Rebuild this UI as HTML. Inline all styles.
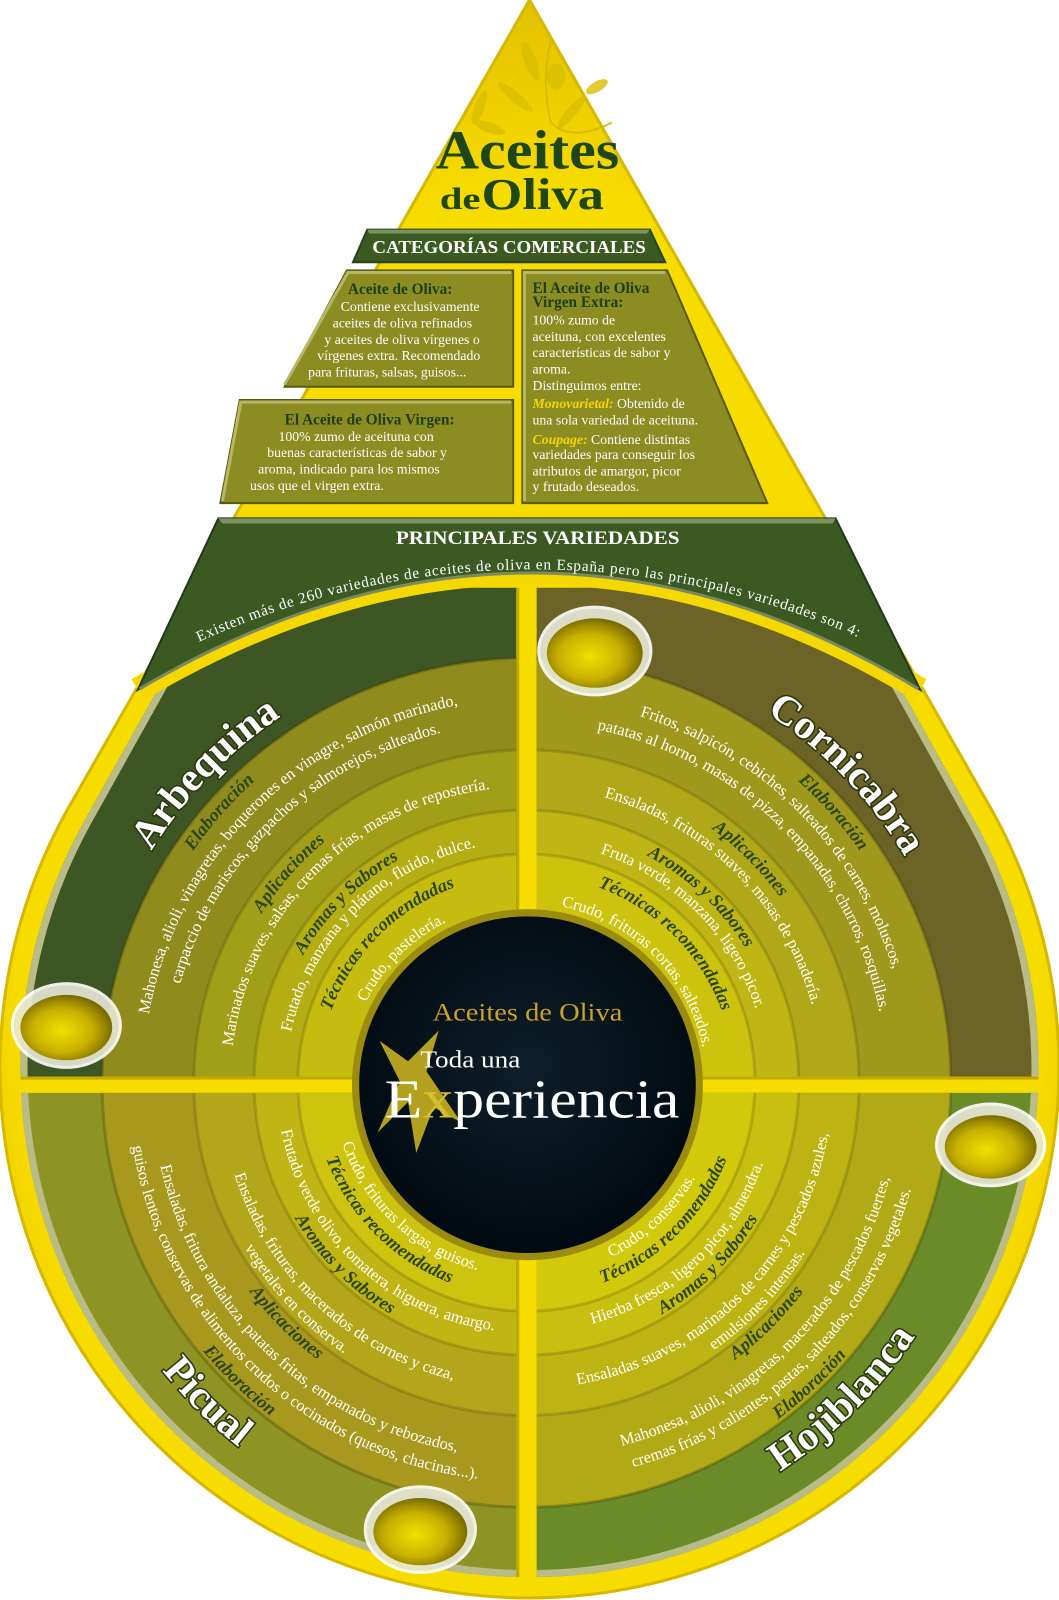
<!DOCTYPE html>
<html><head><meta charset="utf-8"><style>
html,body{margin:0;padding:0;background:#fff;}
svg{display:block;}
text{font-family:"Liberation Serif",serif;}
.b{fill:#fff;font-size:16px;}
.l{fill:#2a4612;font-size:18px;font-weight:bold;font-style:italic;}
.n{fill:#fff;font-size:40px;font-weight:bold;stroke:#2a3510;stroke-width:3px;paint-order:stroke;}
.h{fill:#1e3d10;font-size:15px;font-weight:bold;}
.t{fill:#fff;font-size:13.5px;}
.y{fill:#f5d800;font-weight:bold;font-style:italic;}
</style></head><body>
<svg width="1059" height="1600" viewBox="0 0 1038 1568" preserveAspectRatio="none" xmlns="http://www.w3.org/2000/svg">
<defs>
<radialGradient id="dropG" cx="50%" cy="60%" r="60%"><stop offset="0.8" stop-color="#f7dc00"/><stop offset="1" stop-color="#e2c000"/></radialGradient>
<radialGradient id="blk" cx="50%" cy="45%" r="55%"><stop offset="0" stop-color="#0f1e2a"/><stop offset="1" stop-color="#010a10"/></radialGradient>
<radialGradient id="oil" cx="45%" cy="55%" r="55%"><stop offset="0" stop-color="#f2e000"/><stop offset="0.6" stop-color="#c8b000"/><stop offset="1" stop-color="#7a6c00"/></radialGradient>
<path id="inset" d="M519,22 L955,804 A499 499 0 1 1 83,804 Z"/>
<clipPath id="cTL"><rect x="0" y="576" width="506" height="479"/></clipPath>
<clipPath id="cTR"><rect x="526" y="576" width="512" height="479"/></clipPath>
<clipPath id="cBL"><rect x="0" y="1071" width="506" height="497"/></clipPath>
<clipPath id="cBR"><rect x="526" y="1071" width="512" height="497"/></clipPath>
<clipPath id="cDrop"><use href="#inset"/></clipPath>
<path id="t432" d="M84,1061 A432 432 0 0 1 948,1061 A432 432 0 0 1 84,1061"/>
<path id="t398" d="M118,1061 A398 398 0 0 1 914,1061 A398 398 0 0 1 118,1061"/>
<path id="t376" d="M140,1061 A376 376 0 0 1 892,1061 A376 376 0 0 1 140,1061"/>
<path id="t353" d="M163,1061 A353 353 0 0 1 869,1061 A353 353 0 0 1 163,1061"/>
<path id="t308" d="M208,1061 A308 308 0 0 1 824,1061 A308 308 0 0 1 208,1061"/>
<path id="t290" d="M226,1061 A290 290 0 0 1 806,1061 A290 290 0 0 1 226,1061"/>
<path id="t252" d="M264,1061 A252 252 0 0 1 768,1061 A252 252 0 0 1 264,1061"/>
<path id="t236" d="M280,1061 A236 236 0 0 1 752,1061 A236 236 0 0 1 280,1061"/>
<path id="t204" d="M312,1061 A204 204 0 0 1 720,1061 A204 204 0 0 1 312,1061"/>
<path id="t176" d="M340,1061 A176 176 0 0 1 692,1061 A176 176 0 0 1 340,1061"/>
<path id="b455" d="M61,1061 A455 455 0 0 0 971,1061 A455 455 0 0 0 61,1061"/>
<path id="b412" d="M104,1061 A412 412 0 0 0 928,1061 A412 412 0 0 0 104,1061"/>
<path id="b391" d="M125,1061 A391 391 0 0 0 907,1061 A391 391 0 0 0 125,1061"/>
<path id="b368" d="M148,1061 A368 368 0 0 0 884,1061 A368 368 0 0 0 148,1061"/>
<path id="b340" d="M176,1061 A340 340 0 0 0 856,1061 A340 340 0 0 0 176,1061"/>
<path id="b320" d="M196,1061 A320 320 0 0 0 836,1061 A320 320 0 0 0 196,1061"/>
<path id="b300" d="M216,1061 A300 300 0 0 0 816,1061 A300 300 0 0 0 216,1061"/>
<path id="b263" d="M253,1061 A263 263 0 0 0 779,1061 A263 263 0 0 0 253,1061"/>
<path id="b245" d="M271,1061 A245 245 0 0 0 761,1061 A245 245 0 0 0 271,1061"/>
<path id="b210" d="M306,1061 A210 210 0 0 0 726,1061 A210 210 0 0 0 306,1061"/>
<path id="b190" d="M326,1061 A190 190 0 0 0 706,1061 A190 190 0 0 0 326,1061"/>
<path id="arcV" d="M195,629 A793 793 0 0 1 851,629"/>
</defs>

<!-- drop -->
<path d="M519,0 L969.8,789.8 A519 519 0 1 1 68.2,789.8 Z" fill="url(#dropG)"/>
<path d="M519,0 L969.8,789.8 A519 519 0 1 1 68.2,789.8 Z" fill="none" stroke="#d7b800" stroke-width="3"/>

<!-- olive branch -->
<g fill="#d9bf00" opacity="0.8">
<ellipse cx="520" cy="60" rx="6" ry="20" transform="rotate(-20 520 60)"/>
<ellipse cx="545" cy="75" rx="9" ry="13"/>
<ellipse cx="505" cy="95" rx="5" ry="22" transform="rotate(-50 505 95)"/>
<ellipse cx="560" cy="110" rx="5" ry="20" transform="rotate(40 560 110)"/>
<ellipse cx="470" cy="105" rx="5" ry="18" transform="rotate(20 470 105)"/>
<ellipse cx="480" cy="125" rx="5" ry="16" transform="rotate(-70 480 125)"/>
<ellipse cx="585" cy="85" rx="5" ry="12" transform="rotate(60 585 85)"/>
<path d="M540,40 Q530,80 540,120 Q560,140 600,120" fill="none" stroke="#d4b800" stroke-width="2"/>
</g>

<!-- title -->
<text x="517" y="165" text-anchor="middle" font-size="54" font-weight="bold" fill="#1f4716" textLength="180" lengthAdjust="spacingAndGlyphs">Aceites</text>
<text x="431" y="205" font-size="30" font-weight="bold" fill="#1f4716" textLength="40" lengthAdjust="spacingAndGlyphs">de</text>
<text x="472" y="205" font-size="44" font-weight="bold" fill="#1f4716" textLength="120" lengthAdjust="spacingAndGlyphs">Oliva</text>

<!-- categorias banner -->
<polygon points="360,225 637,225 652,257 346,257" fill="#3b5a22" stroke="#27401a" stroke-width="2"/>
<polygon points="360,225 637,225 634,229 362,229" fill="#7a9160"/>
<text x="499" y="248" text-anchor="middle" font-size="18" font-weight="bold" fill="#fff" textLength="268" lengthAdjust="spacingAndGlyphs">CATEGORÍAS COMERCIALES</text>

<!-- boxes -->
<g stroke="#5a5912" stroke-width="2" fill="#8b8c22">
<polygon points="340,265 503,265 503,379 279,379"/>
<polygon points="235,392 503,392 503,493 216,493"/>
<polygon points="512,265 654,265 752,493 512,493"/>
</g>
<g fill="none" stroke="#b8b766" stroke-width="3">
<polyline points="279,377 341,267 501,267"/>
<polyline points="218,491 236,394 501,394"/>
<polyline points="514,491 514,267 652,267"/>
</g>
<text class="h" x="341" y="288">Aceite de Oliva:</text>
<text class="t" x="334" y="305">Contiene exclusivamente</text>
<text class="t" x="326" y="321">aceites de oliva refinados</text>
<text class="t" x="318" y="337">y aceites de oliva vírgenes o</text>
<text class="t" x="311" y="353">vírgenes extra. Recomendado</text>
<text class="t" x="302" y="369">para frituras, salsas, guisos...</text>
<text class="h" x="279" y="416">El Aceite de Oliva Virgen:</text>
<text class="t" x="273" y="432">100% zumo de aceituna con</text>
<text class="t" x="262" y="448">buenas características de sabor y</text>
<text class="t" x="253" y="464">aroma, indicado para los mismos</text>
<text class="t" x="245" y="480">usos que el virgen extra.</text>
<text class="h" x="522" y="287">El Aceite de Oliva</text>
<text class="h" x="522" y="301">Virgen Extra:</text>
<text class="t" x="522" y="318">100% zumo de</text>
<text class="t" x="522" y="334">aceituna, con excelentes</text>
<text class="t" x="522" y="350">características de sabor y</text>
<text class="t" x="522" y="366">aroma.</text>
<text class="t" x="522" y="382">Distinguimos entre:</text>
<text class="t" x="522" y="400"><tspan class="y">Monovarietal:</tspan> Obtenido de</text>
<text class="t" x="522" y="416">una sola variedad de aceituna.</text>
<text class="t" x="522" y="435"><tspan class="y">Coupage:</tspan> Contiene distintas</text>
<text class="t" x="522" y="450">variedades para conseguir los</text>
<text class="t" x="522" y="466">atributos de amargor, picor</text>
<text class="t" x="522" y="481">y frutado deseados.</text>

<!-- quadrants -->
<g clip-path="url(#cDrop)">
<g clip-path="url(#cTL)">
<rect x="0" y="0" width="1038" height="1568" fill="#3e5624"/>
<use href="#inset" fill="none" stroke="#b9bc86" stroke-width="14"/>
<circle cx="516" cy="1061" r="416" fill="#8f8b1c" stroke="#3a3a0a" stroke-opacity="0.3" stroke-width="3"/>
<circle cx="516" cy="1061" r="326" fill="#a39e18" stroke="#3a3a0a" stroke-opacity="0.2" stroke-width="3"/>
<circle cx="516" cy="1061" r="267" fill="#b5ad14" stroke="#3a3a0a" stroke-opacity="0.2" stroke-width="3"/>
<circle cx="516" cy="1061" r="224" fill="#c6bc10" stroke="#3a3a0a" stroke-opacity="0.2" stroke-width="3"/>
</g>
<g clip-path="url(#cTR)">
<rect x="0" y="0" width="1038" height="1568" fill="#6c6326"/>
<use href="#inset" fill="none" stroke="#b9bc86" stroke-width="14"/>
<circle cx="516" cy="1061" r="416" fill="#a0981c" stroke="#3a3a0a" stroke-opacity="0.3" stroke-width="3"/>
<circle cx="516" cy="1061" r="326" fill="#b0a818" stroke="#3a3a0a" stroke-opacity="0.2" stroke-width="3"/>
<circle cx="516" cy="1061" r="267" fill="#bfb514" stroke="#3a3a0a" stroke-opacity="0.2" stroke-width="3"/>
<circle cx="516" cy="1061" r="224" fill="#cdc30e" stroke="#3a3a0a" stroke-opacity="0.2" stroke-width="3"/>
</g>
<g clip-path="url(#cBL)">
<rect x="0" y="0" width="1038" height="1568" fill="#8d9424"/>
<use href="#inset" fill="none" stroke="#b9bc86" stroke-width="14"/>
<circle cx="516" cy="1061" r="416" fill="#a8981e" stroke="#3a3a0a" stroke-opacity="0.3" stroke-width="3"/>
<circle cx="516" cy="1061" r="326" fill="#b4a61a" stroke="#3a3a0a" stroke-opacity="0.2" stroke-width="3"/>
<circle cx="516" cy="1061" r="267" fill="#c1b516" stroke="#3a3a0a" stroke-opacity="0.2" stroke-width="3"/>
<circle cx="516" cy="1061" r="224" fill="#cec410" stroke="#3a3a0a" stroke-opacity="0.2" stroke-width="3"/>
</g>
<g clip-path="url(#cBR)">
<rect x="0" y="0" width="1038" height="1568" fill="#6b8a28"/>
<use href="#inset" fill="none" stroke="#b9bc86" stroke-width="14"/>
<circle cx="516" cy="1061" r="416" fill="#b1a916" stroke="#3a3a0a" stroke-opacity="0.3" stroke-width="3"/>
<circle cx="516" cy="1061" r="326" fill="#bdb414" stroke="#3a3a0a" stroke-opacity="0.2" stroke-width="3"/>
<circle cx="516" cy="1061" r="267" fill="#c8bf10" stroke="#3a3a0a" stroke-opacity="0.2" stroke-width="3"/>
<circle cx="516" cy="1061" r="224" fill="#d3c90c" stroke="#3a3a0a" stroke-opacity="0.2" stroke-width="3"/>
</g>
</g>
<!-- gap shading -->
<g clip-path="url(#cDrop)">
<rect x="506" y="576" width="3" height="990" fill="#8a7a00" opacity="0.5"/>
<rect x="0" y="1055" width="1038" height="3" fill="#8a7a00" opacity="0.5"/>
</g>

<!-- variedades banner -->
<path d="M135,676 Q523,446 902,676" fill="none" stroke="#f5d800" stroke-width="24"/>
<path d="M214,508 L819,508 L902,676 Q523,446 135,676 Z" fill="#3b5a22" stroke="#23381a" stroke-width="2"/>
<path d="M214,508 L819,508 L816,513 L218,513 Z" fill="#7c9260"/>
<path d="M137,675 Q523,448 900,675" fill="none" stroke="#7c8a60" stroke-width="3"/>
<text x="527" y="533" text-anchor="middle" font-size="19" font-weight="bold" fill="#fff" textLength="278" lengthAdjust="spacingAndGlyphs">PRINCIPALES VARIEDADES</text>
<text font-size="15" fill="#fff"><textPath href="#arcV" textLength="665" lengthAdjust="spacing">Existen más de 260 variedades de aceites de oliva en España pero las principales variedades son 4:</textPath></text>

<!-- center -->
<circle cx="517" cy="1063" r="172" fill="#9b8c10"/>
<circle cx="517" cy="1063" r="165" fill="url(#blk)"/>
<text x="517" y="1000" text-anchor="middle" font-size="25" fill="#c9a227" textLength="186" lengthAdjust="spacingAndGlyphs">Aceites de Oliva</text>
<g fill="#c8b020" opacity="0.9">
<path d="M372,1020 L400,1040 L430,1010 L418,1050 L452,1100 L425,1085 L408,1130 L400,1080 L370,1110 L392,1060 Z"/>
</g>
<text x="412" y="1046" font-size="24" fill="#fff" textLength="98" lengthAdjust="spacingAndGlyphs">Toda una</text>
<text x="377" y="1095" font-size="54" fill="#fff" textLength="289" lengthAdjust="spacingAndGlyphs">E<tspan fill="#d6c030">x</tspan>periencia</text>

<!-- TL texts -->
<text class="n"><textPath href="#t432" startOffset="12.2%" text-anchor="middle">Arbequina</textPath></text>
<text class="l"><textPath href="#t398" startOffset="11.5%" text-anchor="middle">Elaboración</textPath></text>
<text class="b"><textPath href="#t376" startOffset="12.5%" text-anchor="middle">Mahonesa, alioli, vinagretas, boquerones en vinagre, salmón marinado,</textPath></text>
<text class="b"><textPath href="#t353" startOffset="12.8%" text-anchor="middle">carpaccio de mariscos, gazpachos y salmorejos, salteados.</textPath></text>
<text class="l"><textPath href="#t308" startOffset="11.5%" text-anchor="middle">Aplicaciones</textPath></text>
<text class="b"><textPath href="#t290" startOffset="12.5%" text-anchor="middle">Marinados suaves, salsas, cremas frías, masas de repostería.</textPath></text>
<text class="l"><textPath href="#t252" startOffset="12.5%" text-anchor="middle">Aromas y Sabores</textPath></text>
<text class="b"><textPath href="#t236" startOffset="12.5%" text-anchor="middle">Frutado, manzana y plátano, fluido, dulce.</textPath></text>
<text class="l"><textPath href="#t204" startOffset="12.5%" text-anchor="middle">Técnicas recomendadas</textPath></text>
<text class="b"><textPath href="#t176" startOffset="12.5%" text-anchor="middle">Crudo, pastelería.</textPath></text>

<!-- TR texts -->
<text class="n"><textPath href="#t432" startOffset="37.8%" text-anchor="middle">Cornicabra</textPath></text>
<text class="l"><textPath href="#t398" startOffset="38.5%" text-anchor="middle">Elaboración</textPath></text>
<text class="b"><textPath href="#t376" startOffset="37.5%" text-anchor="middle">Fritos, salpicón, cebiches, salteados de carnes, moluscos,</textPath></text>
<text class="b"><textPath href="#t353" startOffset="37.5%" text-anchor="middle">patatas al horno, masas de pizza, empanadas, churros, rosquillas.</textPath></text>
<text class="l"><textPath href="#t308" startOffset="37.5%" text-anchor="middle">Aplicaciones</textPath></text>
<text class="b"><textPath href="#t290" startOffset="37.5%" text-anchor="middle">Ensaladas, frituras suaves, masas de panadería.</textPath></text>
<text class="l"><textPath href="#t252" startOffset="37%" text-anchor="middle">Aromas y Sabores</textPath></text>
<text class="b"><textPath href="#t236" startOffset="37.5%" text-anchor="middle">Fruta verde, manzana, ligero picor.</textPath></text>
<text class="l"><textPath href="#t204" startOffset="37.5%" text-anchor="middle">Técnicas recomendadas</textPath></text>
<text class="b"><textPath href="#t176" startOffset="37.5%" text-anchor="middle">Crudo, frituras cortas, salteados.</textPath></text>

<!-- BL texts -->
<text class="n"><textPath href="#b455" startOffset="12.5%" text-anchor="middle">Picual</textPath></text>
<text class="l"><textPath href="#b412" startOffset="12.8%" text-anchor="middle">Elaboración</textPath></text>
<text class="b"><textPath href="#b368" startOffset="12.8%" text-anchor="middle">Ensaladas, fritura andaluza, patatas fritas, empanados y rebozados,</textPath></text>
<text class="b"><textPath href="#b391" startOffset="12.8%" text-anchor="middle">guisos lentos, conservas de alimentos crudos o cocinados (quesos, chacinas...).</textPath></text>
<text class="l"><textPath href="#b340" startOffset="12.5%" text-anchor="middle">Aplicaciones</textPath></text>
<text class="b"><textPath href="#b320" startOffset="12%" text-anchor="middle">vegetales en conserva.</textPath></text>
<text class="b"><textPath href="#b300" startOffset="13%" text-anchor="middle">Ensaladas, frituras, macerados de carnes y caza,</textPath></text>
<text class="l"><textPath href="#b263" startOffset="12.5%" text-anchor="middle">Aromas y Sabores</textPath></text>
<text class="b"><textPath href="#b245" startOffset="13%" text-anchor="middle">Frutado verde olivo, tomatera, higuera, amargo.</textPath></text>
<text class="l"><textPath href="#b210" startOffset="12.5%" text-anchor="middle">Técnicas recomendadas</textPath></text>
<text class="b"><textPath href="#b190" startOffset="13%" text-anchor="middle">Crudo, frituras largas, guisos.</textPath></text>

<!-- BR texts -->
<text class="n"><textPath href="#b455" startOffset="37.5%" text-anchor="middle">Hojiblanca</textPath></text>
<text class="l"><textPath href="#b412" startOffset="37%" text-anchor="middle">Elaboración</textPath></text>
<text class="b"><textPath href="#b368" startOffset="37.5%" text-anchor="middle">Mahonesa, alioli, vinagretas, macerados de pescados fuertes,</textPath></text>
<text class="b"><textPath href="#b391" startOffset="37.5%" text-anchor="middle">cremas frías y calientes, pastas, salteados, conservas vegetales.</textPath></text>
<text class="l"><textPath href="#b340" startOffset="37.5%" text-anchor="middle">Aplicaciones</textPath></text>
<text class="b"><textPath href="#b320" startOffset="38%" text-anchor="middle">emulsiones intensas.</textPath></text>
<text class="b"><textPath href="#b300" startOffset="37.5%" text-anchor="middle">Ensaladas suaves, marinados de carnes y pescados azules,</textPath></text>
<text class="l"><textPath href="#b263" startOffset="37.5%" text-anchor="middle">Aromas y Sabores</textPath></text>
<text class="b"><textPath href="#b245" startOffset="37%" text-anchor="middle">Hierba fresca, ligero picor, almendra.</textPath></text>
<text class="l"><textPath href="#b210" startOffset="37.5%" text-anchor="middle">Técnicas recomendadas</textPath></text>
<text class="b"><textPath href="#b190" startOffset="37%" text-anchor="middle">Crudo, conservas.</textPath></text>

<!-- bowls -->
<g>
<ellipse cx="583" cy="638" rx="55" ry="43" fill="#e8e8d8" stroke="#fff" stroke-width="3" opacity="0.9"/>
<ellipse cx="583" cy="640" rx="47" ry="34" fill="url(#oil)"/>
<ellipse cx="65" cy="1005" rx="53" ry="41" fill="#e8e8d8" stroke="#fff" stroke-width="3" opacity="0.9"/>
<ellipse cx="65" cy="1007" rx="45" ry="32" fill="url(#oil)"/>
<ellipse cx="971" cy="1122" rx="53" ry="40" fill="#e8e8d8" stroke="#fff" stroke-width="3" opacity="0.9"/>
<ellipse cx="971" cy="1124" rx="45" ry="31" fill="url(#oil)"/>
<ellipse cx="412" cy="1499" rx="54" ry="42" fill="#e8e8d8" stroke="#fff" stroke-width="3" opacity="0.9"/>
<ellipse cx="412" cy="1501" rx="46" ry="33" fill="url(#oil)"/>
</g>
</svg>
</body></html>
